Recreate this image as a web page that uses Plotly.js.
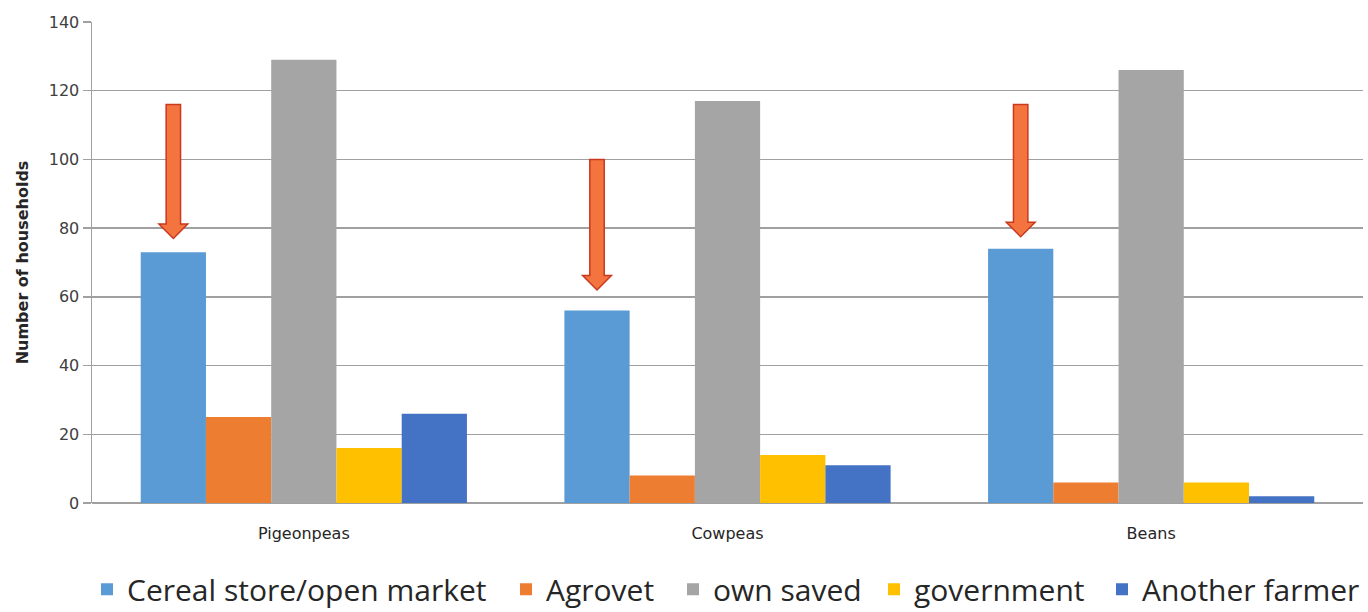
<!DOCTYPE html>
<html>
<head>
<meta charset="utf-8">
<script src="https://cdn.plot.ly/plotly-3.0.1.min.js"></script>
<style>html,body{margin:0;padding:0;background:#fff;}#chart{width:1368px;height:612px;}</style>
</head>
<body>
<div id="chart"></div>
<script>
const categories = ["Pigeonpeas", "Cowpeas", "Beans"];
const seriesNames = ["Cereal store/open market", "Agrovet", "own saved", "government", "Another farmer"];
const cerealStore = [73, 56, 74];
const agrovet = [25, 8, 6];
const ownSaved = [129, 117, 126];
const government = [16, 14, 6];
const anotherFarmer = [26, 11, 2];
const seriesColors = ["#5B9BD5", "#ED7D31", "#A5A5A5", "#FFC000", "#4472C4"];
// arrow annotations (start value, tip value) above the cereal store bars
const arrowTop = [116, 100, 116];
const arrowTip = [77, 62, 77.5];

const allValues = [cerealStore, agrovet, ownSaved, government, anotherFarmer];
const xIdx = categories.map((c, i) => i);
const bargap = 0.23;
const W = 1368;
// left edge (px) of each legend entry text, as in the reference
const legendTextLeft = [127, 546, 713, 914, 1142];

const legendIds = seriesNames.map((n, k) => k === 0 ? "legend" : "legend" + (k + 1));

const traces = allValues.map((vals, k) => ({
  type: "bar",
  name: seriesNames[k],
  x: xIdx,
  y: vals,
  legend: legendIds[k],
  marker: {color: seriesColors[k], line: {width: 0}},
  hoverinfo: "y"
}));

const nSeries = allValues.length;
const groupW = 1 - bargap;
const barW = groupW / nSeries;
const shaftHalf = 0.017, headHalf = 0.034, headH = 4.2;
const shapes = [];
categories.forEach((c, i) => {
  const cx = i - groupW / 2 + barW / 2;
  const t = arrowTop[i], tip = arrowTip[i];
  const hb = tip + headH;
  const p = `M ${cx - shaftHalf} ${t} L ${cx + shaftHalf} ${t} L ${cx + shaftHalf} ${hb} L ${cx + headHalf} ${hb} L ${cx} ${tip} L ${cx - headHalf} ${hb} L ${cx - shaftHalf} ${hb} Z`;
  shapes.push({type: "path", xref: "x", yref: "y", path: p, fillcolor: "#F3743E", line: {color: "#C9381F", width: 1.5}});
});

const TICKFONT = "'DejaVu Sans', sans-serif";
const LEGFONT = "'Open Sans', sans-serif";
const layout = {
  width: W, height: 612,
  margin: {l: 92, r: 5, t: 22, b: 109},
  paper_bgcolor: "#fff", plot_bgcolor: "#fff",
  font: {family: TICKFONT, color: "#404040"},
  barmode: "group", bargap: bargap, bargroupgap: 0,
  showlegend: true,
  xaxis: {type: "linear", range: [-0.5, 2.5], tickvals: xIdx, ticktext: categories, showgrid: false, zeroline: false,
          showline: false, ticks: "outside", ticklen: 16, tickcolor: "rgba(0,0,0,0)", tickfont: {size: 16, color: "#262626"}, fixedrange: true},
  yaxis: {range: [0, 140], dtick: 20, tick0: 0, showgrid: true, gridcolor: "#A0A0A0", gridwidth: 1.5,
          zeroline: true, zerolinecolor: "#A0A0A0", zerolinewidth: 1.5,
          showline: true, linecolor: "#A0A0A0", linewidth: 1.5, ticks: "outside", ticklen: 8, tickcolor: "#A0A0A0", tickwidth: 1.5,
          tickfont: {size: 16, color: "#404040"},
          title: {text: "<b>Number of households</b>", font: {size: 16, color: "#262626"}, standoff: 16}, automargin: false},
  shapes: shapes
};
legendIds.forEach((id, k) => {
  layout[id] = {orientation: "h", x: (legendTextLeft[k] - 40) / W, xanchor: "left", xref: "container",
                y: 0.037, yref: "container", yanchor: "middle", bgcolor: "rgba(0,0,0,0)",
                font: {size: 30, color: "#262626", family: LEGFONT}, itemwidth: 30};
});

Plotly.newPlot("chart", traces, layout, {displayModeBar: false, staticPlot: true});
</script>
</body>
</html>
